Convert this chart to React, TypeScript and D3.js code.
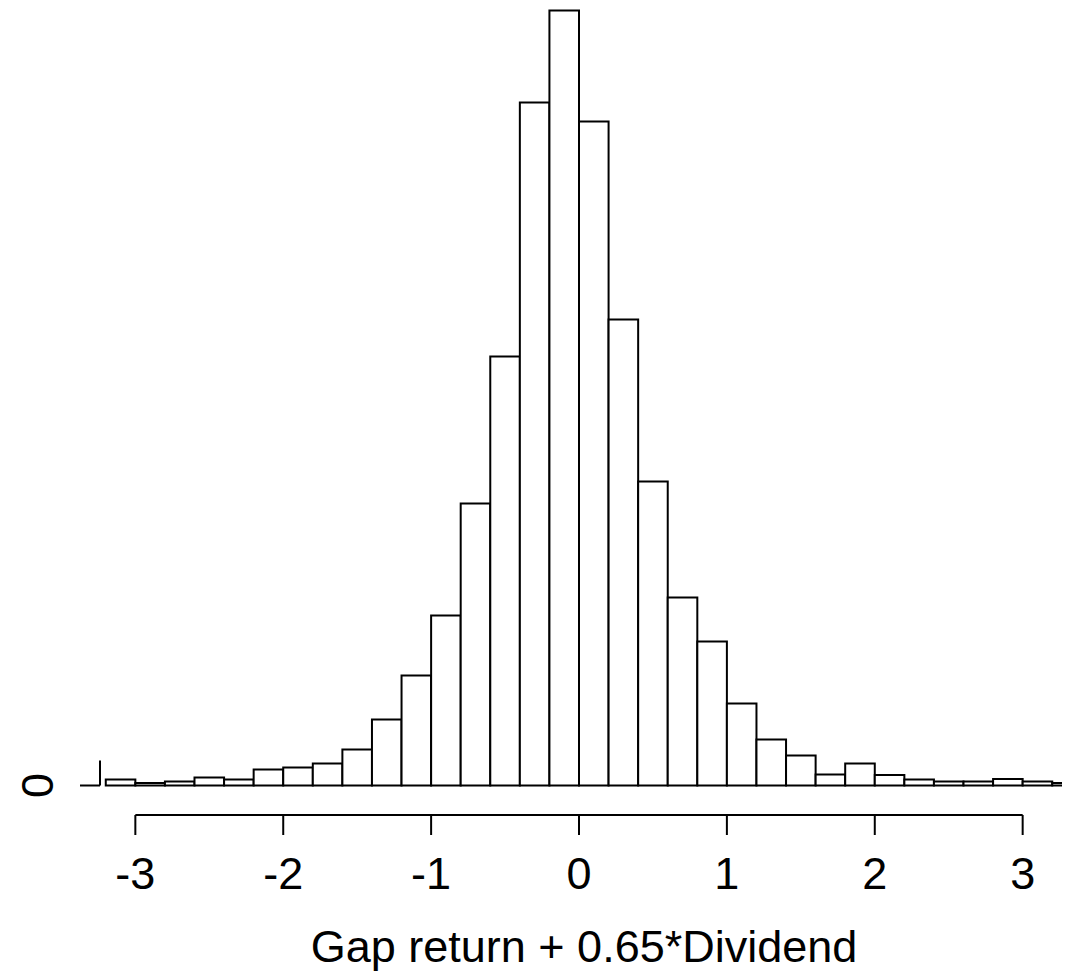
import React, { useEffect, useRef } from "react";
import * as d3 from "d3";

// histogram bins (left edges, width 0.2) and counts
const binStarts = [
  -3.4, -3.2, -3.0, -2.8, -2.6, -2.4, -2.2, -2.0, -1.8, -1.6, -1.4, -1.2,
  -1.0, -0.8, -0.6, -0.4, -0.2, 0.0, 0.2, 0.4, 0.6, 0.8, 1.0, 1.2, 1.4, 1.6,
  1.8, 2.0, 2.2, 2.4, 2.6, 2.8, 3.0, 3.2,
];
const binWidth = 0.2;
const counts = [
  0, 12, 5, 8, 16, 12, 32, 36, 44, 72, 132, 220, 340, 564, 858, 1366, 1550,
  1328, 932, 608, 376, 288, 164, 92, 60, 22, 44, 21, 12, 8, 8, 13, 8, 5,
];
const xTicks = [-3, -2, -1, 0, 1, 2, 3];
const yTicks = [0];
const yAxisTop = 50;
const xLabel = "Gap return + 0.65*Dividend";

const W = 1066, H = 976;
const FONT = "'Liberation Sans', Arial, sans-serif";

export default function App() {
  const ref = useRef<SVGSVGElement>(null);

  useEffect(() => {
    const svg = d3.select(ref.current);
    svg.selectAll("*").remove();

    const left = 100, right = 1062, base = 785.5, top = 10.5;

    const xScale = d3.scaleLinear().domain([-3.239, 3.266]).range([left, right]);
    const yScale = d3.scaleLinear().domain([0, d3.max(counts) as number]).range([base, top]);

    svg.append("clipPath").attr("id", "plotclip")
      .append("rect")
      .attr("x", left).attr("y", 0)
      .attr("width", right - left).attr("height", H);

    // bars
    svg.append("g")
      .attr("clip-path", "url(#plotclip)")
      .selectAll("rect")
      .data(binStarts)
      .enter()
      .append("rect")
      .attr("x", d => xScale(d))
      .attr("y", (d, i) => yScale(counts[i]))
      .attr("width", d => xScale(d + binWidth) - xScale(d))
      .attr("height", (d, i) => base - yScale(counts[i]))
      .attr("fill", "white")
      .attr("stroke", "black")
      .attr("stroke-width", 2);

    // x axis
    const axisY = 815, tickLen = 20;
    const gx = svg.append("g");
    gx.append("line")
      .attr("x1", xScale(xTicks[0])).attr("x2", xScale(xTicks[xTicks.length - 1]))
      .attr("y1", axisY).attr("y2", axisY)
      .attr("stroke", "black").attr("stroke-width", 2);
    gx.selectAll("line.tick")
      .data(xTicks).enter().append("line")
      .attr("class", "tick")
      .attr("x1", d => xScale(d)).attr("x2", d => xScale(d))
      .attr("y1", axisY).attr("y2", axisY + tickLen)
      .attr("stroke", "black").attr("stroke-width", 2);
    gx.selectAll("text")
      .data(xTicks).enter().append("text")
      .attr("x", d => xScale(d))
      .attr("y", 889)
      .attr("text-anchor", "middle")
      .style("font-family", FONT)
      .style("font-size", "45px")
      .text(d => String(d));

    // y axis
    const gy = svg.append("g");
    gy.append("line")
      .attr("x1", left).attr("x2", left)
      .attr("y1", yScale(0)).attr("y2", yScale(yAxisTop))
      .attr("stroke", "black").attr("stroke-width", 2);
    gy.selectAll("line.tick")
      .data(yTicks).enter().append("line")
      .attr("class", "tick")
      .attr("x1", left - tickLen).attr("x2", left)
      .attr("y1", d => yScale(d)).attr("y2", d => yScale(d))
      .attr("stroke", "black").attr("stroke-width", 2);
    gy.selectAll("text")
      .data(yTicks).enter().append("text")
      .attr("transform", d => `translate(53, ${yScale(d)}) rotate(-90)`)
      .attr("text-anchor", "middle")
      .style("font-family", FONT)
      .style("font-size", "45px")
      .text(d => String(d));

    // x label
    svg.append("text")
      .attr("x", 584)
      .attr("y", 962)
      .attr("text-anchor", "middle")
      .style("font-family", FONT)
      .style("font-size", "45px")
      .text(xLabel);
  }, []);

  return (
    <svg ref={ref} width={W} height={H}
      style={{ position: "absolute", left: 0, top: 0, background: "white" }} />
  );
}
